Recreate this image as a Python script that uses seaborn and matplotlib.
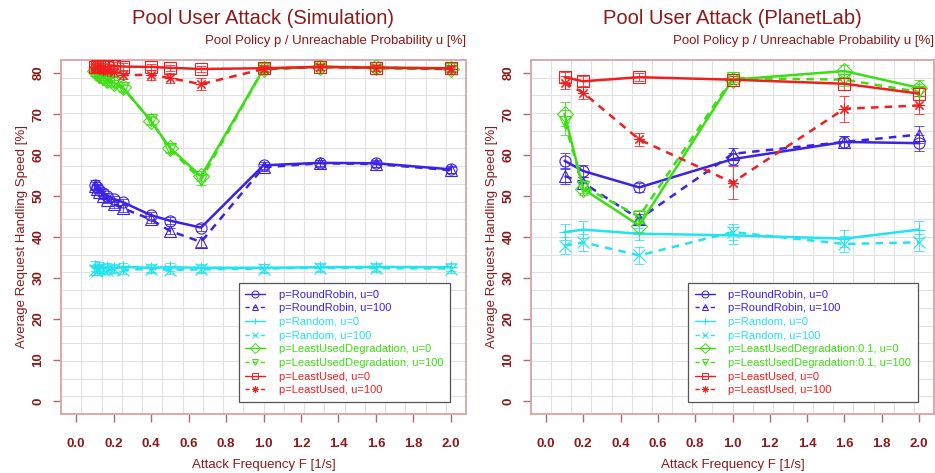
import matplotlib
matplotlib.use("Agg")
import matplotlib.pyplot as plt
from matplotlib.lines import Line2D
import seaborn as sns
import pandas as pd

sns.set_style("white")
plt.rcParams["font.family"] = ["Liberation Sans", "DejaVu Sans"]

DARK_RED = "#8b1a1a"
FRAME = "#d9a3a3"
GRID = "#e2e2e2"

# ---------------- Simulation panel ----------------
sim_freq = [0.1, 0.111, 0.125, 0.143, 0.167, 0.2, 0.25, 0.4, 0.5, 0.667, 1.0, 1.3, 1.6, 2.0]
sim_rr_u0 = [52.8, 52.2, 51.5, 50.8, 50.0, 49.3, 48.5, 45.3, 44.0, 42.3, 57.5, 58.1, 58.0, 56.5]
sim_rr_u100 = [52.5, 51.8, 51.0, 50.0, 49.0, 48.0, 47.0, 44.3, 41.5, 38.8, 57.0, 58.0, 57.8, 56.3]
sim_rand_u0 = [33.0, 32.5, 32.8, 32.5, 32.6, 32.4, 32.7, 32.5, 32.6, 32.5, 32.5, 32.6, 32.7, 32.6]
sim_rand_u100 = [32.0, 31.8, 32.2, 32.0, 31.9, 32.1, 32.0, 32.2, 32.0, 32.1, 32.3, 32.5, 32.4, 32.3]
sim_lud_u0 = [80.5, 80.0, 79.6, 79.0, 78.4, 77.6, 76.5, 68.3, 61.8, 54.8, 81.0, 81.6, 81.4, 81.1]
sim_lud_u100 = [80.2, 79.8, 79.0, 78.5, 78.0, 77.5, 76.3, 68.5, 61.5, 54.0, 81.0, 81.5, 81.2, 81.0]
sim_lu_u0 = [81.5, 81.8, 81.6, 81.7, 81.5, 81.8, 81.6, 81.5, 81.3, 81.0, 81.2, 81.5, 81.3, 81.2]
sim_lu_u100 = [81.5, 81.2, 81.0, 80.8, 80.5, 80.2, 79.5, 79.6, 78.8, 77.3, 81.0, 81.5, 81.3, 81.0]

sim_rr_u0_err = [1.0, 0.8, 0.8, 0.8, 0.8, 0.8, 0.8, 0.8, 0.8, 0.8, 0.8, 0.8, 0.8, 0.8]
sim_rr_u100_err = [1.0, 0.8, 0.8, 0.8, 0.8, 0.8, 0.8, 0.8, 0.8, 1.2, 0.8, 0.8, 0.8, 0.8]
sim_rand_u0_err = [1.2, 1.0, 1.0, 1.0, 1.0, 1.0, 1.0, 1.0, 1.0, 1.0, 1.0, 1.0, 1.0, 1.0]
sim_rand_u100_err = [1.2, 1.0, 1.0, 1.0, 1.0, 1.0, 1.0, 1.0, 1.0, 1.0, 1.0, 1.0, 1.0, 1.0]
sim_lud_u0_err = [0.8, 0.8, 0.8, 0.8, 0.8, 0.8, 0.8, 1.0, 1.0, 1.2, 0.8, 0.8, 0.8, 0.8]
sim_lud_u100_err = [0.8, 0.8, 0.8, 0.8, 0.8, 0.8, 0.8, 1.0, 1.0, 1.2, 0.8, 0.8, 0.8, 0.8]
sim_lu_u0_err = [0.8, 0.8, 0.8, 0.8, 0.8, 0.8, 0.8, 0.8, 0.8, 0.8, 0.8, 0.8, 0.8, 0.8]
sim_lu_u100_err = [1.0, 1.0, 1.0, 1.0, 1.0, 1.0, 1.0, 1.2, 1.2, 1.5, 0.8, 0.8, 0.8, 0.8]

# ---------------- PlanetLab panel ----------------
lab_freq = [0.1, 0.2, 0.5, 1.0, 1.6, 2.0]
lab_rr_u0 = [58.6, 56.1, 52.1, 59.0, 63.2, 62.9]
lab_rr_u100 = [54.9, 53.2, 44.4, 60.3, 63.2, 65.0]
lab_rand_u0 = [41.2, 41.8, 40.8, 40.4, 39.6, 41.8]
lab_rand_u100 = [37.9, 38.7, 35.5, 41.2, 38.3, 38.7]
lab_lud_u0 = [70.0, 51.7, 42.8, 78.4, 80.5, 76.4]
lab_lud_u100 = [68.0, 52.3, 45.0, 78.8, 78.4, 75.4]
lab_lu_u0 = [79.0, 78.0, 79.0, 78.4, 77.4, 75.0]
lab_lu_u100 = [77.7, 75.2, 63.8, 53.3, 71.3, 72.1]

lab_rr_u0_err = [2.0, 1.5, 1.2, 1.5, 1.5, 2.0]
lab_rr_u100_err = [2.0, 1.5, 1.2, 1.5, 1.5, 2.0]
lab_rand_u0_err = [2.0, 2.0, 1.5, 2.0, 2.0, 2.0]
lab_rand_u100_err = [2.0, 2.0, 2.0, 2.0, 2.0, 2.0]
lab_lud_u0_err = [3.0, 1.5, 1.5, 1.0, 1.5, 2.0]
lab_lud_u100_err = [3.0, 1.5, 1.5, 1.0, 1.5, 2.0]
lab_lu_u0_err = [1.2, 1.2, 1.0, 1.0, 1.5, 1.5]
lab_lu_u100_err = [1.5, 1.5, 1.5, 4.0, 3.2, 2.2]

y_ticks = [0, 10, 20, 30, 40, 50, 60, 70, 80]
x_ticks = [0.0, 0.2, 0.4, 0.6, 0.8, 1.0, 1.2, 1.4, 1.6, 1.8, 2.0]

BLUE = "#3b22e8"
CYAN = "#22e4f0"
GREEN = "#3ede14"
RED = "#f21e1e"

# (color, marker, dashed) for each curve, in legend order
styles = [
    (BLUE, "o", False),
    (BLUE, "^", True),
    (CYAN, "+", False),
    (CYAN, "x", True),
    (GREEN, "D", False),
    (GREEN, "v", True),
    (RED, "s", False),
    (RED, (8, 2, 0), True),
]

sim_labels = ["p=RoundRobin, u=0", "p=RoundRobin, u=100",
              "p=Random, u=0", "p=Random, u=100",
              "p=LeastUsedDegradation, u=0", "p=LeastUsedDegradation, u=100",
              "p=LeastUsed, u=0", "p=LeastUsed, u=100"]
lab_labels = ["p=RoundRobin, u=0", "p=RoundRobin, u=100",
              "p=Random, u=0", "p=Random, u=100",
              "p=LeastUsedDegradation:0.1, u=0", "p=LeastUsedDegradation:0.1, u=100",
              "p=LeastUsed, u=0", "p=LeastUsed, u=100"]

sim_series = [(sim_rr_u0, sim_rr_u0_err), (sim_rr_u100, sim_rr_u100_err),
              (sim_rand_u0, sim_rand_u0_err), (sim_rand_u100, sim_rand_u100_err),
              (sim_lud_u0, sim_lud_u0_err), (sim_lud_u100, sim_lud_u100_err),
              (sim_lu_u0, sim_lu_u0_err), (sim_lu_u100, sim_lu_u100_err)]
lab_series = [(lab_rr_u0, lab_rr_u0_err), (lab_rr_u100, lab_rr_u100_err),
              (lab_rand_u0, lab_rand_u0_err), (lab_rand_u100, lab_rand_u100_err),
              (lab_lud_u0, lab_lud_u0_err), (lab_lud_u100, lab_lud_u100_err),
              (lab_lu_u0, lab_lu_u0_err), (lab_lu_u100, lab_lu_u100_err)]

DASH = (0, (3, 2.5))

fig = plt.figure(figsize=(9.35, 4.73), dpi=100)
W, H = 935, 473


def make_axes(x0, x1, y0, y1):
    return fig.add_axes([x0 / W, 1 - y1 / H, (x1 - x0) / W, (y1 - y0) / H])


def draw_panel(ax, freq, series, labels, title):
    # equally spaced background grid (20 x 20 cells)
    for i in range(1, 20):
        ax.plot([i / 20, i / 20], [0, 1], transform=ax.transAxes,
                color=GRID, lw=0.8, zorder=0)
        ax.plot([0, 1], [i / 20, i / 20], transform=ax.transAxes,
                color=GRID, lw=0.8, zorder=0)

    handles = []
    for (vals, err), (color, marker, dashed), label in zip(series, styles, labels):
        df = pd.DataFrame({"freq": freq, "speed": vals})
        ls = DASH if dashed else "-"
        sns.lineplot(data=df, x="freq", y="speed", ax=ax, color=color,
                     marker=marker, markersize=8, markerfacecolor="none",
                     markeredgecolor=color, markeredgewidth=0.8,
                     linestyle=ls, lw=1.8, errorbar=None, sort=True,
                     zorder=3)
        ax.errorbar(freq, vals, yerr=err, fmt="none", ecolor=color,
                    elinewidth=0.7, capsize=3.5, capthick=0.7, zorder=2,
                    alpha=0.8)
        handles.append(Line2D([], [], color=color, marker=marker, markersize=5,
                              markerfacecolor="none", markeredgewidth=0.7,
                              linestyle=ls, lw=1.0, label=label))

    ax.set_xlim(-0.08, 2.08)
    ax.set_ylim(-3.2, 83.2)
    ax.set_xticks(x_ticks)
    ax.set_xticklabels([f"{v:.1f}" for v in x_ticks], fontweight="bold",
                       fontsize=9.5, color=DARK_RED)
    ax.set_yticks(y_ticks)
    ax.set_yticklabels([str(v) for v in y_ticks], fontweight="bold",
                       fontsize=9.5, color=DARK_RED, rotation=90, va="center")
    ax.tick_params(axis="both", which="major", direction="out", length=6,
                   width=1.0, color="#b06a6a", bottom=True, left=True)
    ax.tick_params(axis="x", pad=11)
    ax.tick_params(axis="y", pad=6)
    for sp in ax.spines.values():
        sp.set_color(FRAME)
        sp.set_linewidth(1.3)

    ax.set_xlabel("Attack Frequency F [1/s]", fontsize=9.5, color=DARK_RED,
                  labelpad=7)
    ax.set_ylabel("Average Request Handling Speed [%]", fontsize=9.5,
                  color=DARK_RED, labelpad=3)
    ax.set_title(title, fontsize=14.5, color=DARK_RED, pad=26)
    ax.text(1.0, 1.037, "Pool Policy p / Unreachable Probability u [%]",
            transform=ax.transAxes, ha="right", va="bottom", fontsize=9.5,
            color=DARK_RED)

    leg = ax.legend(handles=handles, loc="lower right",
                    bbox_to_anchor=(0.96, 0.034), borderaxespad=0,
                    fontsize=8, labelcolor="linecolor", frameon=True,
                    fancybox=False, edgecolor="#555555", framealpha=1,
                    handlelength=1.8, handletextpad=1.2, labelspacing=0.33,
                    borderpad=0.6)
    leg.get_frame().set_linewidth(0.9)


ax1 = make_axes(61, 466, 60, 414)
ax2 = make_axes(531, 934, 60, 414)
draw_panel(ax1, sim_freq, sim_series, sim_labels, "Pool User Attack (Simulation)")
draw_panel(ax2, lab_freq, lab_series, lab_labels, "Pool User Attack (PlanetLab)")

fig.savefig("out.png", dpi=100)
